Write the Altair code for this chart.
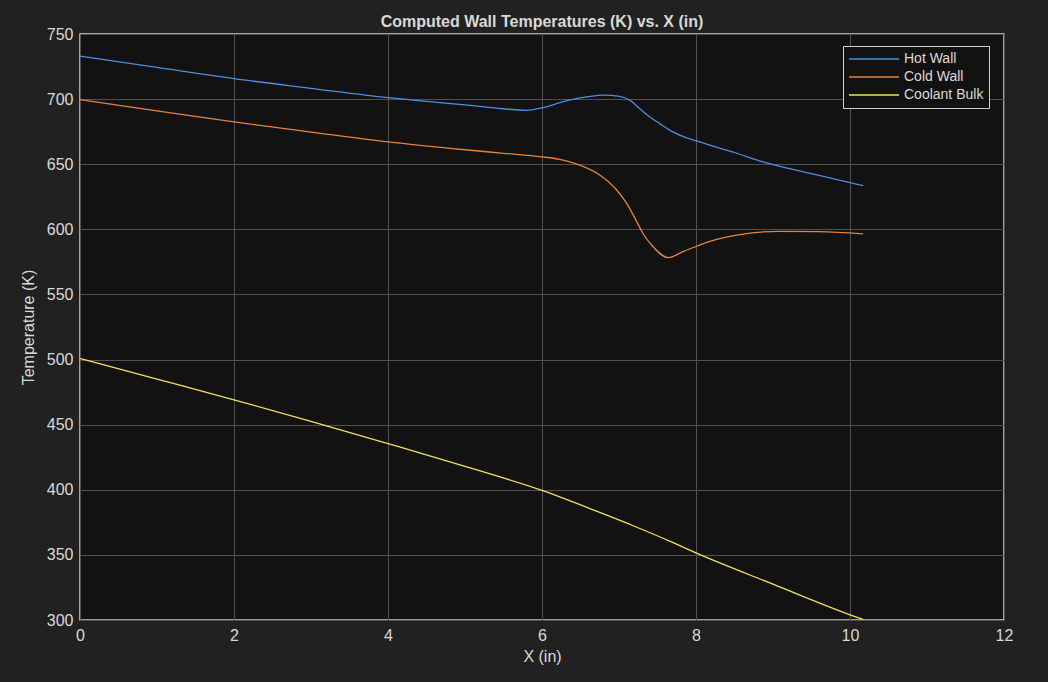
import altair as alt
import pandas as pd

# Hot wall
hot_x = [0, 1, 2, 3, 4, 5, 5.5, 5.8, 6.0, 6.3, 6.6, 6.8, 7.01, 7.14, 7.27, 7.40, 7.53, 7.70, 7.88, 8.01, 8.18, 8.5, 8.87, 9.5, 10.17]
hot_t = [733, 724.3, 715.7, 708.3, 701.1, 695.6, 692.6, 691.4, 693.3, 698.4, 701.9, 703.1, 702.1, 699.1, 692.7, 686.3, 681.2, 674.8, 670.2, 667.9, 664.6, 659.0, 651.8, 642.7, 633.5]

# Cold wall
cold_x = [0, 1, 2, 3, 4, 5, 5.5, 6.0, 6.23, 6.49, 6.75, 6.97, 7.10, 7.23, 7.31, 7.44, 7.64, 7.83, 8.01, 8.18, 8.57, 9.09, 9.6, 10.17]
cold_t = [699.6, 691.0, 682.5, 674.7, 667.1, 661.1, 658.4, 655.7, 653.7, 649.3, 641.7, 630.2, 620.0, 605.9, 597.0, 586.8, 578.3, 582.9, 587.0, 590.8, 596.0, 598.5, 598.2, 596.5]

# Coolant bulk
cool_x = [0, 1, 2, 3, 4, 5, 6, 6.75, 7.2, 7.68, 8.0, 9.0, 10.0, 10.17]
cool_t = [500.8, 485.0, 469.1, 452.6, 435.5, 418.0, 399.5, 382.6, 372.0, 360.0, 351.5, 327.5, 304.0, 300.4]

series_names = ["Hot Wall", "Cold Wall", "Coolant Bulk"]
series_colors = ["#4C8FDE", "#E8823A", "#F2E25A"]

rows = []
for name, xs, ts in zip(series_names, [hot_x, cold_x, cool_x], [hot_t, cold_t, cool_t]):
    for i, (x, t) in enumerate(zip(xs, ts)):
        rows.append({"series": name, "x": x, "t": t, "i": i})
df = pd.DataFrame(rows)

FONT = "Liberation Sans"
TXT = "#d9d9d9"

chart = alt.Chart(df).mark_line(strokeWidth=1.3, interpolate="monotone", clip=True).encode(
    x=alt.X("x:Q", scale=alt.Scale(domain=[0, 12], nice=False, zero=False),
            axis=alt.Axis(title="X (in)", values=[0, 2, 4, 6, 8, 10, 12], format="d")),
    y=alt.Y("t:Q", scale=alt.Scale(domain=[300, 750], nice=False, zero=False),
            axis=alt.Axis(title="Temperature (K)", values=list(range(300, 751, 50)), format="d")),
    color=alt.Color("series:N", sort=series_names,
                    scale=alt.Scale(domain=series_names, range=series_colors),
                    legend=alt.Legend(title=None, orient="none", legendX=763, legendY=12,
                                      symbolType="stroke", symbolSize=2500, symbolStrokeWidth=1.5,
                                      clipHeight=16,
                                      labelFont=FONT, labelFontSize=14, labelColor=TXT,
                                      fillColor="#121212", strokeColor="#cfcfcf",
                                      padding=5, rowPadding=2, labelOffset=4)),
    order="i:Q",
).properties(
    width=924, height=586,
    title=alt.Title("Computed Wall Temperatures (K) vs. X (in)", font=FONT, fontSize=16,
                    fontWeight="bold", color=TXT, anchor="middle", offset=-4),
    background="#212121",
    padding={"left": 80, "top": 34, "right": 44, "bottom": 62},
    autosize=alt.AutoSizeParams(type="none"),
).configure_view(
    fill="#121212", stroke="#cfcfcf", strokeWidth=1.5
).configure_axis(
    labelFont=FONT, labelFontSize=16, labelColor=TXT,
    titleFont=FONT, titleFontSize=16, titleColor=TXT, titleFontWeight="normal",
    grid=True, gridColor="#505050", gridWidth=1,
    domain=False, ticks=False, labelPadding=7, labelFlush=False,
).configure_axisX(titlePadding=5).configure_axisY(titlePadding=10)

chart.save("out.html", embed_options={"renderer": "svg", "actions": False})
